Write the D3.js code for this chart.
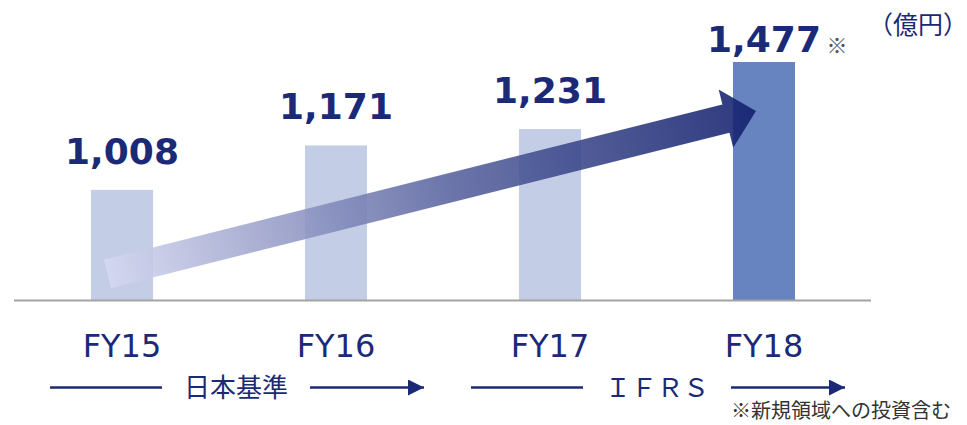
<!DOCTYPE html>
<meta charset="utf-8">
<style>
body { margin: 0; background: #fff; }
svg { display: block; }
</style>
<svg id="svg" width="967" height="425"></svg>
<script src="https://cdn.jsdelivr.net/npm/d3@7"></script>
<script>
// chart data
var categories = ["FY15", "FY16", "FY17", "FY18"];
var values = [1008, 1171, 1231, 1477];
var valueLabels = ["1,008", "1,171", "1,231", "1,477"];
var highlight = [false, false, false, true];

// accounting standard periods under the axis
var periodNames = ["日本基準", "ＩＦＲＳ"];
var periodFrom = ["FY15", "FY17"];
var periodTo = ["FY16", "FY18"];

// growth arrow: [category, value] at tail and tip
var trendFrom = ["FY15", 700];
var trendTo = ["FY18", 1297];

var unitText = "（億円）";
var noteText = "※新規領域への投資含む";

var navy = "#1b2a76";
var svg = d3.select("svg"),
    width = +svg.attr("width"),
    height = +svg.attr("height");

var baseY = 300;

var x = d3.scaleBand()
    .domain(categories)
    .range([15, 871])
    .paddingInner(0.71)
    .paddingOuter(0.355);

var y = d3.scaleLinear()
    .domain([604, d3.max(values)])
    .range([baseY, 62]);

function cx(c) { return x(c) + x.bandwidth() / 2; }

// bars
svg.append("g")
    .selectAll("rect")
    .data(values)
    .enter().append("rect")
    .attr("x", function(d, i) { return x(categories[i]); })
    .attr("y", function(d) { return y(d); })
    .attr("width", x.bandwidth())
    .attr("height", function(d) { return baseY - y(d); })
    .attr("fill", function(d, i) { return highlight[i] ? "#6784c0" : "#c3cee6"; });

// baseline
svg.append("line")
    .attr("x1", 14).attr("x2", 871)
    .attr("y1", baseY + 0.5).attr("y2", baseY + 0.5)
    .attr("stroke", "#a3a3a3")
    .attr("stroke-width", 2);

// growth arrow with gradient
var defs = svg.append("defs");
var grad = defs.append("linearGradient")
    .attr("id", "trendGrad")
    .attr("x1", 0).attr("y1", 0).attr("x2", 1).attr("y2", 0);
grad.append("stop").attr("offset", "0%").attr("stop-color", "#d6d8f1");
grad.append("stop").attr("offset", "53%").attr("stop-color", "#57629e");
grad.append("stop").attr("offset", "100%").attr("stop-color", "#101e6c");

var tx0 = cx(trendFrom[0]) - 14.5, ty0 = y(trendFrom[1]);
var tx1 = cx(trendTo[0]) - 8, ty1 = y(trendTo[1]);
var len = Math.hypot(tx1 - tx0, ty1 - ty0);
var ang = Math.atan2(ty1 - ty0, tx1 - tx0) * 180 / Math.PI;
var sw = 14.5, hw = 30, hl = 31;
var arrowPts = [[0, -sw], [len - hl, -sw], [len - hl, -hw], [len, 0],
                [len - hl, hw], [len - hl, sw], [0, sw]];

svg.append("path")
    .attr("d", d3.line()(arrowPts) + "Z")
    .attr("transform", "translate(" + tx0 + "," + ty0 + ") rotate(" + ang + ")")
    .attr("fill", "url(#trendGrad)")
    .attr("fill-opacity", 0.88);

// value labels
svg.append("g")
    .selectAll("text")
    .data(values)
    .enter().append("text")
    .attr("x", function(d, i) { return cx(categories[i]); })
    .attr("y", function(d, i) { return y(d) - (highlight[i] ? 10 : 26); })
    .attr("text-anchor", "middle")
    .attr("font-family", "DejaVu Sans, Verdana, sans-serif")
    .attr("font-weight", "bold")
    .attr("font-size", 36)
    .attr("fill", navy)
    .text(function(d, i) { return valueLabels[i]; });

// note mark next to the last value
svg.append("text")
    .attr("x", cx(categories[3]) + 73)
    .attr("y", y(values[3]) - 9)
    .attr("text-anchor", "middle")
    .attr("font-family", "Noto Sans CJK JP, sans-serif")
    .attr("font-size", 21)
    .attr("fill", "#555")
    .text("※");

// unit
svg.append("text")
    .attr("x", 868)
    .attr("y", 34)
    .attr("font-family", "Noto Sans CJK JP, sans-serif")
    .attr("font-size", 25)
    .attr("fill", navy)
    .text(unitText);

// category labels
svg.append("g")
    .selectAll("text")
    .data(categories)
    .enter().append("text")
    .attr("x", function(d) { return cx(d); })
    .attr("y", 357)
    .attr("text-anchor", "middle")
    .attr("font-family", "DejaVu Sans, Verdana, sans-serif")
    .attr("font-size", 32)
    .attr("fill", navy)
    .text(function(d) { return d; });

// period markers
defs.append("marker")
    .attr("id", "head")
    .attr("viewBox", "0 0 16 16")
    .attr("refX", 16).attr("refY", 8)
    .attr("markerWidth", 16).attr("markerHeight", 16)
    .attr("markerUnits", "userSpaceOnUse")
    .attr("orient", "auto")
    .append("path")
    .attr("d", "M0,0L16,8L0,16Z")
    .attr("fill", navy);

var periodShift = [7, 0];
var rowY = 387.5;
periodNames.forEach(function(name, i) {
    var c = (cx(periodFrom[i]) + cx(periodTo[i])) / 2 + periodShift[i];
    var g = svg.append("g");
    g.append("line")
        .attr("x1", c - 186).attr("x2", c - 74)
        .attr("y1", rowY).attr("y2", rowY)
        .attr("stroke", navy).attr("stroke-width", 2.5);
    g.append("line")
        .attr("x1", c + 74).attr("x2", c + 188)
        .attr("y1", rowY).attr("y2", rowY)
        .attr("stroke", navy).attr("stroke-width", 2.5)
        .attr("marker-end", "url(#head)");
    g.append("text")
        .attr("x", c)
        .attr("y", rowY)
        .attr("dy", "0.36em")
        .attr("text-anchor", "middle")
        .attr("font-family", "Noto Sans CJK JP, sans-serif")
        .attr("font-size", 26)
        .attr("fill", navy)
        .text(name);
});

// footnote
svg.append("text")
    .attr("x", 731)
    .attr("y", 418)
    .attr("font-family", "Noto Sans CJK JP, sans-serif")
    .attr("font-size", 20)
    .attr("fill", "#333")
    .text(noteText);
</script>
